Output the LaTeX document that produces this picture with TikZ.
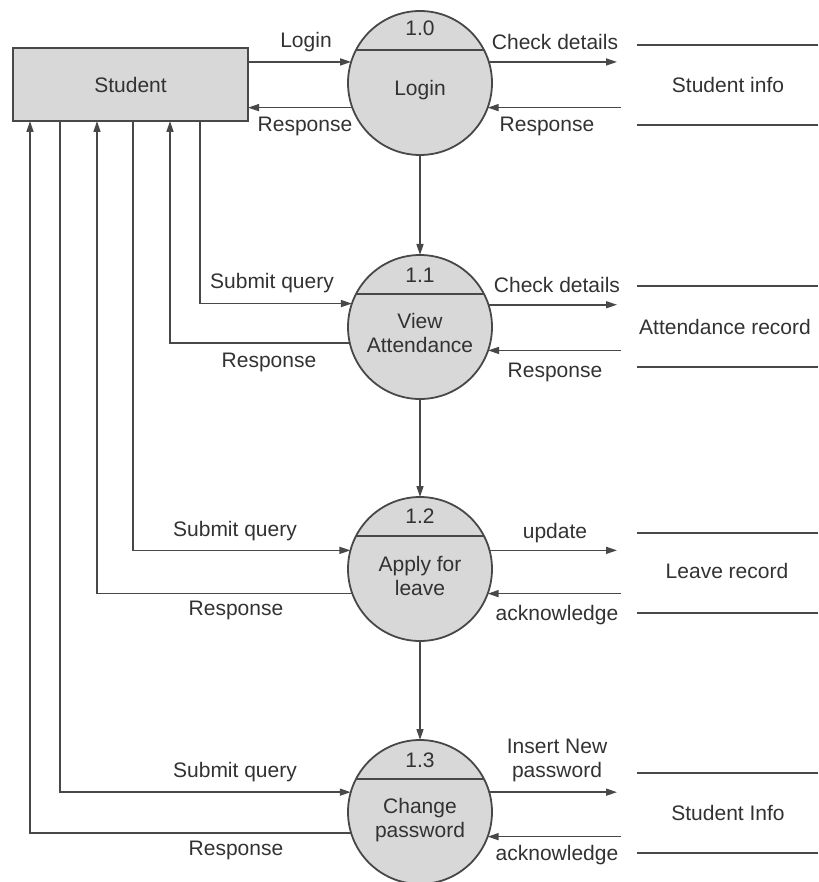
\documentclass[tikz,border=0pt]{standalone}
\usepackage{fontspec}
\setmainfont{Liberation Sans}
\usetikzlibrary{arrows.meta,calc}
\definecolor{linec}{RGB}{72,72,72}
\definecolor{fillc}{RGB}{216,216,216}
\definecolor{textc}{RGB}{50,50,50}
\begin{document}
\begin{tikzpicture}[x=1pt,y=-1pt,
 every node/.style={font=\fontsize{21}{24}\selectfont, text=textc},
 proc/.style={circle, draw=linec, fill=fillc, line width=1.8pt, minimum size=144pt, inner sep=0pt, outer sep=0pt},
 ent/.style={draw=linec, fill=fillc, line width=1.8pt, minimum width=235pt, minimum height=73pt, outer sep=0pt},
 flow/.style={draw=linec, line width=1.5pt, -{Triangle[length=11pt,width=7pt]}},
 plain/.style={draw=linec, line width=1.5pt},
 lbl/.style={inner sep=1pt, align=center}]
\useasboundingbox (0,0) rectangle (818,882);

% entity and processes
\node[ent] (stu) at (130.5,84.5) {Student};
\node[proc] (p0) at (420,83) {};
\node[proc] (p1) at (420,327) {};
\node[proc] (p2) at (420,569) {};
\node[proc] (p3) at (420,812) {};
\foreach \p in {p0,p1,p2,p3}{\draw[plain,line width=1.8pt] (\p.153) -- (\p.27);}

\node[lbl] (n0) at ($(p0)+(0,-55)$) {1.0};
\node[lbl] (n1) at ($(p1)+(0,-52)$) {1.1};
\node[lbl] (n2) at ($(p2)+(0,-53)$) {1.2};
\node[lbl] (n3) at ($(p3)+(0,-52)$) {1.3};
\node[lbl] (t0) at ($(p0)+(0,7)$) {Login};
\node[lbl] (t1) at ($(p1)+(0,6)$) {View\\Attendance};
\node[lbl] (t2) at ($(p2)+(0,7)$) {Apply for\\leave};
\node[lbl] (t3) at ($(p3)+(0,8)$) {Change\\password};

% vertical flows between processes
\draw[flow] (p0.south) -- (p1.north);
\draw[flow] (p1.south) -- (p2.north);
\draw[flow] (p2.south) -- (p3.north);

% student <-> login
\draw[flow] (p0.163 -| stu.east) -- (p0.163);
\draw[flow] (p0.200) -- (p0.200 -| stu.east);
\node[lbl] (l0a) at (306,42) {Login};
\node[lbl] (l0b) at (305,126) {Response};

% student <-> other processes
\draw[flow] ([xshift=187pt]stu.south west) |- (p1.161);
\draw[flow] (p1.193) -| ([xshift=157pt]stu.south west);
\draw[flow] ([xshift=120pt]stu.south west) |- (p2.165);
\draw[flow] (p2.200) -| ([xshift=84pt]stu.south west);
\draw[flow] ([xshift=47pt]stu.south west) |- (p3.164);
\draw[flow] (p3.197) -| ([xshift=17pt]stu.south west);
\node[lbl] (l1a) at (272,283) {Submit query};
\node[lbl] (l1b) at (269,362) {Response};
\node[lbl] (l2a) at (235,531) {Submit query};
\node[lbl] (l2b) at (236,610) {Response};
\node[lbl] (l3a) at (235,772) {Submit query};
\node[lbl] (l3b) at (236,850) {Response};

% data stores
\coordinate (outx) at (617,0);
\coordinate (inx) at (621,0);
\node[lbl] (s0) at (728,85) {Student info};
\draw[plain] (637,45) -- (818,45);
\draw[plain] (637,125) -- (818,125);
\node[lbl] (s1) at (725,327) {Attendance record};
\draw[plain] (637,286) -- (818,286);
\draw[plain] (637,367) -- (818,367);
\node[lbl] (s2) at (727,571) {Leave record};
\draw[plain] (637,533) -- (818,533);
\draw[plain] (637,613) -- (818,613);
\node[lbl] (s3) at (728,813) {Student Info};
\draw[plain] (637,773) -- (818,773);
\draw[plain] (637,853) -- (818,853);

% process <-> stores
\draw[flow] (p0.17) -- (p0.17 -| outx);
\draw[flow] (p0.340 -| inx) -- (p0.340);
\node[lbl] (r0a) at (555,42) {Check details};
\node[lbl] (r0b) at (547,126) {Response};
\draw[flow] (p1.18) -- (p1.18 -| outx);
\draw[flow] (p1.341 -| inx) -- (p1.341);
\node[lbl] (r1a) at (557,285) {Check details};
\node[lbl] (r1b) at (555,372) {Response};
\draw[flow] (p2.15) -- (p2.15 -| outx);
\draw[flow] (p2.340 -| inx) -- (p2.340);
\node[lbl] (r2a) at (555,533) {update};
\node[lbl] (r2b) at (557,615) {acknowledge};
\draw[flow] (p3.16) -- (p3.16 -| outx);
\draw[flow] (p3.340 -| inx) -- (p3.340);
\node[lbl] (r3a) at (557,760) {Insert New\\password};
\node[lbl] (r3b) at (557,855) {acknowledge};
\end{tikzpicture}
\end{document}
